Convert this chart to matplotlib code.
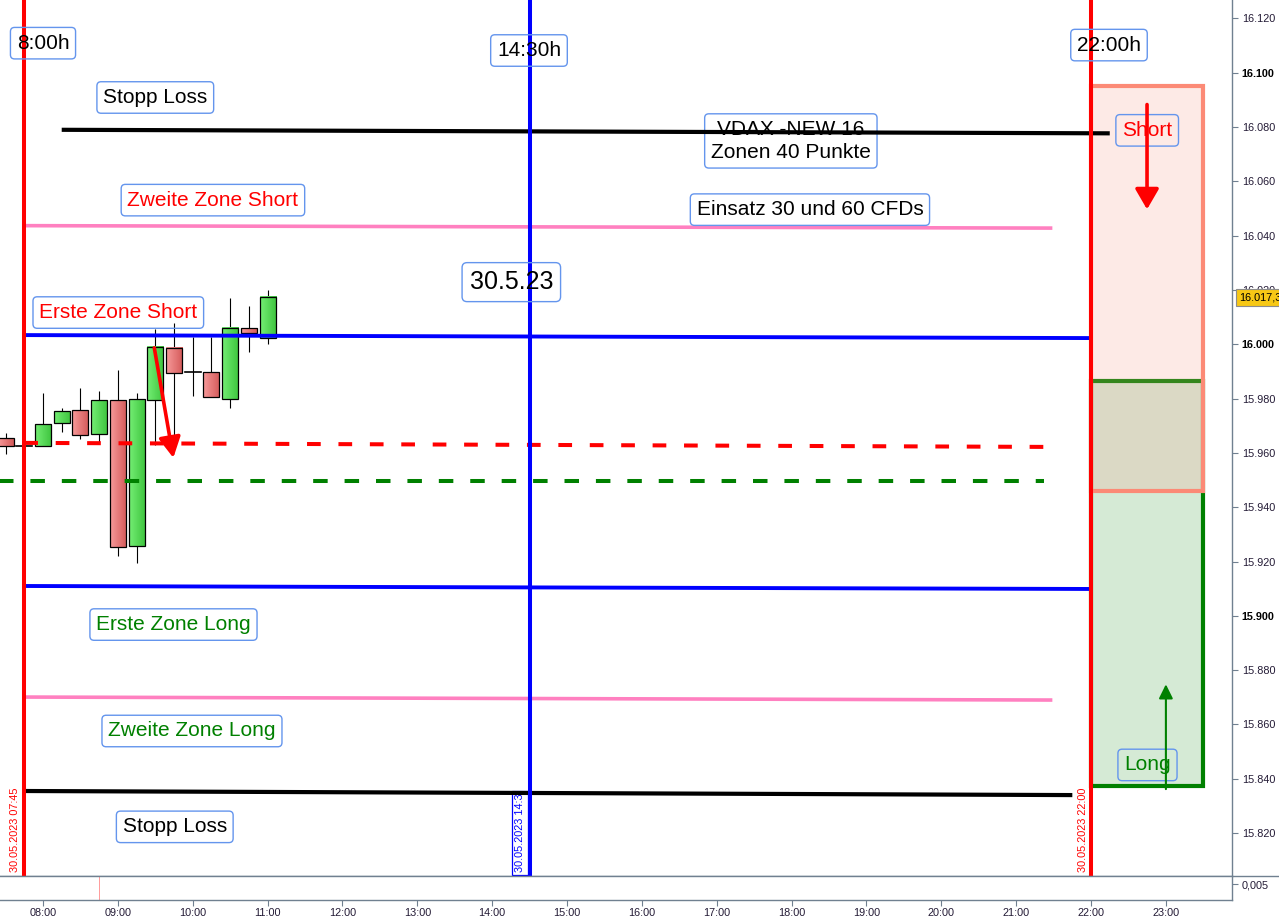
import matplotlib
matplotlib.use("Agg")
import numpy as np
import matplotlib.pyplot as plt
from matplotlib.patches import Rectangle
from matplotlib.lines import Line2D
from matplotlib.colors import LinearSegmentedColormap
import matplotlib.transforms as mtransforms

plt.rcParams['font.family'] = ['Liberation Sans', 'DejaVu Sans']

# ---------------- data ----------------
candle_times = ["07:30", "07:45", "08:00", "08:15", "08:30", "08:45", "09:00", "09:15",
                "09:30", "09:45", "10:00", "10:15", "10:30", "10:45", "11:00"]
candle_open = [15965.4, 15962.7, 15962.6, 15970.9, 15975.7, 15966.9, 15979.4, 15925.9,
               15979.4, 15998.7, 15989.8, 15989.7, 15979.9, 16005.9, 16002.2]
candle_high = [15967.2, 15962.7, 15982.0, 15976.4, 15983.8, 15982.8, 15990.5, 15982.0,
               16005.5, 16007.7, 16002.6, 16002.6, 16016.9, 16014.1, 16020.0]
candle_low = [15959.5, 15962.7, 15962.6, 15967.8, 15965.0, 15963.9, 15922.1, 15919.6,
              15963.0, 15962.0, 15981.1, 15980.5, 15976.7, 15997.3, 16000.0]
candle_close = [15962.6, 15962.7, 15970.5, 15975.3, 15966.5, 15979.4, 15925.3, 15979.8,
                15999.1, 15989.3, 15989.8, 15980.5, 16006.1, 16004.3, 16017.3]

# horizontal drawn lines: (start time, end time, start price, end price)
line_names = ["Stopp Loss oben", "Zweite Zone Short", "Erste Zone Short", "Rot gestrichelt",
              "Gruen gestrichelt", "Erste Zone Long", "Zweite Zone Long", "Stopp Loss unten"]
line_t0 = ["08:15", "07:45", "07:45", "07:45", "07:25", "07:45", "07:45", "07:45"]
line_t1 = ["22:15", "21:29", "22:00", "21:34", "21:22", "22:00", "21:29", "21:45"]
line_p0 = [16079.0, 16043.7, 16003.4, 15963.7, 15949.7, 15911.0, 15870.1, 15835.5]
line_p1 = [16077.7, 16042.8, 16002.3, 15962.2, 15949.7, 15909.9, 15869.0, 15834.0]

# vertical time markers
vline_times = ["07:45", "14:30", "22:00"]
vline_labels = ["8:00h", "14:30h", "22:00h"]
vline_dates = ["30.05.2023 07:45", "30.05.2023 14:3", "30.05.2023 22:00"]

# zones (start time, end time, low, high)
short_zone = ("22:00", "23:30", 15946.0, 16095.3)
long_zone = ("22:00", "23:30", 15837.4, 15986.5)

last_price = 16017.3
last_price_text = "16.017,3"
y_ticks = [15820, 15840, 15860, 15880, 15900, 15920, 15940, 15960, 15980,
           16000, 16020, 16040, 16060, 16080, 16100, 16120]
x_tick_hours = list(range(8, 24))


def h(s):
    hh, mm = s.split(":")
    return int(hh) + int(mm) / 60.0


def fmt_price(v):
    return f"{v:,.0f}".replace(",", ".")


# ---------------- figure ----------------
W, H = 1279, 916
fig = plt.figure(figsize=(W / 100, H / 100), dpi=100)
fig.patch.set_facecolor("white")

main_bottom = 876
ax = fig.add_axes([0, (H - main_bottom) / H, 1232 / W, main_bottom / H])
axb = fig.add_axes([0, (H - 900) / H, 1232 / W, 24 / H], sharex=ax)

XMIN, XMAX = 7.4256, 23.883
YMIN, YMAX = 15804.2, 16126.8

spine_c = "#708090"
for a in (ax, axb):
    a.spines['left'].set_visible(False)
    a.spines['top'].set_visible(False)
    a.spines['right'].set_color(spine_c)
    a.spines['bottom'].set_color(spine_c)
    a.spines['right'].set_linewidth(1.0)
    a.spines['bottom'].set_linewidth(1.0)

tick_lc = '#231a35'
# y axis on right
ax.yaxis.tick_right()
ax.set_yticks(y_ticks, [fmt_price(v) for v in y_ticks])
ax.tick_params(axis='y', direction='out', length=4, width=0.8, color=spine_c,
               labelsize=7.8, labelcolor=tick_lc, pad=3)
for lbl, v in zip(ax.get_yticklabels(), y_ticks):
    if v % 100 == 0:
        lbl.set_fontweight('bold')
        lbl.set_color('black')
ax.tick_params(axis='x', bottom=False, labelbottom=False)

# bottom panel
axb.set_ylim(0, 0.0075)
axb.yaxis.tick_right()
axb.set_yticks([0.005], ["0,005"])
axb.tick_params(axis='y', direction='out', length=4, width=0.8, color=spine_c,
                labelsize=7.8, labelcolor=tick_lc, pad=3)
axb.set_xticks(x_tick_hours, [f"{v:02d}:00" for v in x_tick_hours])
axb.tick_params(axis='x', direction='out', length=4, width=0.8, color=spine_c,
                labelsize=7.8, labelcolor=tick_lc, pad=2)
axb.axvline(h("08:45"), color='#ff9a9a', lw=0.7)

# separator line to the figure edge
fig.add_artist(Line2D([0, 1], [(H - main_bottom) / H] * 2, color=spine_c, lw=1.0,
                      transform=fig.transFigure))

# ---------------- zones ----------------
lz = Rectangle((h(long_zone[0]), long_zone[2]), h(long_zone[1]) - h(long_zone[0]),
               long_zone[3] - long_zone[2], facecolor=(0, 0.5, 0, 0.165),
               edgecolor='#008000', lw=3, zorder=1)
ax.add_patch(lz)
sz = Rectangle((h(short_zone[0]), short_zone[2]), h(short_zone[1]) - h(short_zone[0]),
               short_zone[3] - short_zone[2], facecolor=(0.965, 0.615, 0.54, 0.21),
               edgecolor='#fc8a76', lw=3, zorder=1.1)
ax.add_patch(sz)

# ---------------- candles ----------------
green_cm = LinearSegmentedColormap.from_list("g", ["#74ee74", "#3ec43e"])
red_cm = LinearSegmentedColormap.from_list("r", ["#f79a9a", "#d45a5a"])
grad = np.linspace(0, 1, 32).reshape(1, -1)
bw = 0.214
for t, o, hi, lo, c in zip(candle_times, candle_open, candle_high, candle_low, candle_close):
    x = h(t)
    ax.plot([x, x], [lo, hi], color='black', lw=0.8, zorder=2, solid_capstyle='butt')
    up = c >= o
    if abs(c - o) < 0.3:
        ax.plot([x - bw / 2, x + bw / 2], [o, o], color='black', lw=1.2, zorder=2.2)
    else:
        y0, y1 = min(o, c), max(o, c)
        ax.imshow(grad, cmap=green_cm if up else red_cm, aspect='auto',
                  extent=[x - bw / 2, x + bw / 2, y0, y1], zorder=2.05,
                  interpolation='bilinear')
        ax.add_patch(Rectangle((x - bw / 2, y0), bw, y1 - y0, facecolor='none',
                               edgecolor='black', lw=0.9, zorder=2.1))

# ---------------- horizontal lines ----------------
styles = {
    "Stopp Loss oben": dict(color='black', lw=3.0),
    "Zweite Zone Short": dict(color='#ff80c0', lw=2.6),
    "Erste Zone Short": dict(color='#0000ff', lw=2.8),
    "Rot gestrichelt": dict(color='#ff0000', lw=2.9, dashes=(3.4, 4.4)),
    "Gruen gestrichelt": dict(color='#008000', lw=2.9, dashes=(3.6, 4.2)),
    "Erste Zone Long": dict(color='#0000ff', lw=2.8),
    "Zweite Zone Long": dict(color='#ff80c0', lw=2.6),
    "Stopp Loss unten": dict(color='black', lw=3.0),
}
for n, t0, t1, p0, p1 in zip(line_names, line_t0, line_t1, line_p0, line_p1):
    ax.plot([h(t0), h(t1)], [p0, p1], zorder=3, solid_capstyle='butt', **styles[n])

# ---------------- vertical lines ----------------
vcols = ['#ff0000', '#0000ff', '#ff0000']
for t, c in zip(vline_times, vcols):
    ax.axvline(h(t), color=c, lw=2.9, zorder=4)

box_ec = '#6495ed'


def label(t, p, s, color='black', size=15, z=5, **kw):
    ax.text(t, p, s, color=color, fontsize=size, ha='center', va='center', zorder=z,
            bbox=dict(boxstyle='round,pad=0.3,rounding_size=0.2', facecolor='none',
                      edgecolor=box_ec, lw=1.0), **kw)


# time labels at top
label(8.0, 16110.9, vline_labels[0])
label(14.492, 16108.2, vline_labels[1])
label(22.24, 16110.2, vline_labels[2])

label(9.50, 16090.9, "Stopp Loss")
label(10.27, 16053.1, "Zweite Zone Short", color='#ff0000')
label(17.99, 16074.9, "VDAX -NEW 16\nZonen 40 Punkte", z=2.5, linespacing=1.25,
      multialignment='center')
label(18.245, 16049.6, "Einsatz 30 und 60 CFDs")
label(14.256, 16022.9, "30.5.23", size=18)
label(9.006, 16011.7, "Erste Zone Short", color='#ff0000')
label(9.743, 15896.8, "Erste Zone Long", color='#008000')
label(9.99, 15857.6, "Zweite Zone Long", color='#008000')
label(9.76, 15822.3, "Stopp Loss")
label(22.75, 16078.8, "Short", color='#ff0000')
label(22.754, 15845.1, "Long", color='#008000')

# rotated date labels
trans = mtransforms.blended_transform_factory(ax.transData, ax.transAxes)
ax.text(7.63, 0.004, vline_dates[0], rotation=90, color='#ff0000', fontsize=7.8,
        ha='center', va='bottom', transform=trans, zorder=5)
ax.text(14.372, 0.004, vline_dates[1], rotation=90, color='#0000ff', fontsize=7.8,
        ha='center', va='bottom', transform=trans, zorder=2.6,
        bbox=dict(boxstyle='square,pad=0.25', facecolor='white', edgecolor='#0000ff', lw=0.9))
ax.text(21.893, 0.004, vline_dates[2], rotation=90, color='#ff0000', fontsize=7.8,
        ha='center', va='bottom', transform=trans, zorder=5)

# ---------------- arrows ----------------
ax.annotate('', xy=(22.748, 16049.7), xytext=(22.748, 16088.3),
            arrowprops=dict(arrowstyle='-|>,head_length=0.62,head_width=0.36',
                            color='#ff0000', lw=2.6, mutation_scale=20,
                            shrinkA=0, shrinkB=0), zorder=7)
ax.annotate('', xy=(23.0, 15874.8), xytext=(23.0, 15836.2),
            arrowprops=dict(arrowstyle='-|>,head_length=0.85,head_width=0.42',
                            color='#008000', lw=1.5, mutation_scale=10,
                            shrinkA=0, shrinkB=0), zorder=7)
ax.annotate('', xy=(9.741, 15958.2), xytext=(9.487, 15998.7),
            arrowprops=dict(arrowstyle='-|>,head_length=0.62,head_width=0.33',
                            color='#ff0000', lw=2.6, mutation_scale=20,
                            shrinkA=0, shrinkB=0), zorder=7)

# ---------------- last price tag ----------------
ax.text(1.0055, last_price, last_price_text,
        transform=mtransforms.blended_transform_factory(ax.transAxes, ax.transData),
        fontsize=7.8, color='black', ha='left', va='center', clip_on=False, zorder=8,
        bbox=dict(boxstyle='square,pad=0.3', facecolor='#f7c815', edgecolor='#8c8c8c', lw=0.8))

ax.set_xlim(XMIN, XMAX)
ax.set_ylim(YMIN, YMAX)

fig.savefig("out.png", dpi=100, facecolor='white')
